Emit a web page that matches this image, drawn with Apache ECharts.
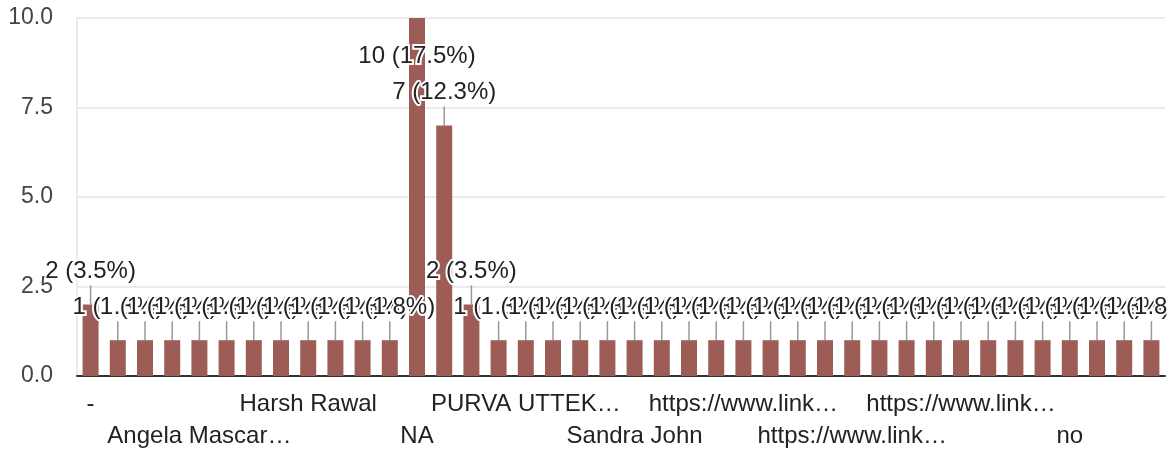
<!DOCTYPE html>
<html lang="en">
<head>
    <meta charset="UTF-8">
    <title>Responses</title>
    <style>
        html, body { margin: 0; padding: 0; background: #fff; }
    </style>
</head>
<body>
    <div id="main" style="width: 1167px;height:458px;"></div>
    <script src="https://cdn.jsdelivr.net/npm/echarts@6/dist/echarts.min.js"></script>
    <script>
    // categories (sorted as in the source) and counts
    var categories = [
        '-', 'Aarav Shah', 'Aditi Kulkarni', 'Amit Verma',
        'Angela Mascarenhas', 'Ankit Desai', 'Deepak Nair', 'Gaurav Singh',
        'Harsh Rawal', 'Karan Mehta', 'Meera Iyer', 'Mohit Jain',
        'NA', 'NIL', 'Neha Gupta', 'Nikhil Rao',
        'PURVA UTTEKAR', 'Priya Sharma', 'Rahul Patil', 'Rohan Kapoor',
        'Sandra John', 'Sneha Reddy', 'Tanvi Joshi', 'Vivek Menon',
        'https://www.linkedin.com/in/a1', 'https://www.linkedin.com/in/a2', 'https://www.linkedin.com/in/a3', 'https://www.linkedin.com/in/a4',
        'https://www.linkedin.com/in/b1', 'https://www.linkedin.com/in/b2', 'https://www.linkedin.com/in/b3', 'https://www.linkedin.com/in/b4',
        'https://www.linkedin.com/in/c1', 'https://www.linkedin.com/in/c2', 'https://www.linkedin.com/in/c3', 'https://www.linkedin.com/in/c4',
        'no', 'none', 'not applicable', 'nothing'
    ];
    var counts = [
        2, 1, 1, 1,
        1, 1, 1, 1,
        1, 1, 1, 1,
        10, 7, 2, 1,
        1, 1, 1, 1,
        1, 1, 1, 1,
        1, 1, 1, 1,
        1, 1, 1, 1,
        1, 1, 1, 1,
        1, 1, 1, 1
    ];
    var yTicks = [0, 2.5, 5, 7.5, 10];

    var total = counts.reduce(function (a, b) { return a + b; }, 0);
    var FONT = '"Liberation Sans", Arial, sans-serif';
    var LABEL_FONT = '24px ' + FONT;

    var myChart = echarts.init(document.getElementById('main'));
    var option = {
        animation: false,
        grid: {
            left: 77,
            right: 2,
            top: 18,
            bottom: 82,
            outerBoundsMode: 'none'
        },
        xAxis: {
            type: 'category',
            data: categories,
            axisTick: { show: false },
            axisLine: { lineStyle: { color: '#333', width: 2 } },
            axisLabel: {
                interval: 3,
                hideOverlap: false,
                margin: 12,
                fontSize: 24,
                fontFamily: FONT,
                color: '#222',
                lineHeight: 32,
                formatter: function (val, idx) {
                    // '-' gets read as an empty value, so take the name from the list
                    var txt = echarts.format.truncateText(categories[idx], 196, LABEL_FONT, '…');
                    return (idx / 4) % 2 === 1 ? '\n' + txt : txt;
                }
            }
        },
        yAxis: {
            type: 'value',
            min: yTicks[0],
            max: yTicks[yTicks.length - 1],
            interval: 2.5,
            axisLine: { show: true, lineStyle: { color: '#ebebeb', width: 2 } },
            axisTick: { show: false },
            splitLine: { lineStyle: { color: '#ebebeb', width: 2 } },
            axisLabel: {
                margin: 24,
                fontSize: 23,
                fontFamily: FONT,
                color: '#444',
                formatter: function (v) { return v.toFixed(1); }
            }
        },
        series: [
            {
                type: 'bar',
                data: counts,
                barWidth: 16,
                itemStyle: { color: '#9e5c56' },
                label: {
                    show: true,
                    position: 'top',
                    distance: 5,
                    fontSize: 24,
                    fontFamily: FONT,
                    color: '#222',
                    textBorderColor: '#fff',
                    textBorderWidth: 4,
                    formatter: function (p) {
                        return p.value + ' (' + (p.value / total * 100).toFixed(1) + '%)';
                    }
                },
                labelLine: {
                    show: true,
                    lineStyle: { color: '#999', width: 1.5 }
                },
                labelLayout: function (p) {
                    var dy = -16;
                    var barTop = p.rect.y;
                    var cy = p.labelRect.y + p.labelRect.height / 2 + dy;
                    if (p.labelRect.y + dy < 0) {
                        // no room above the plot: flip below the bar top
                        dy += 2 * (barTop - cy) + 5;
                    }
                    return { dy: dy };
                }
            }
        ]
    };
    myChart.setOption(option);
    </script>
</body>
</html>
